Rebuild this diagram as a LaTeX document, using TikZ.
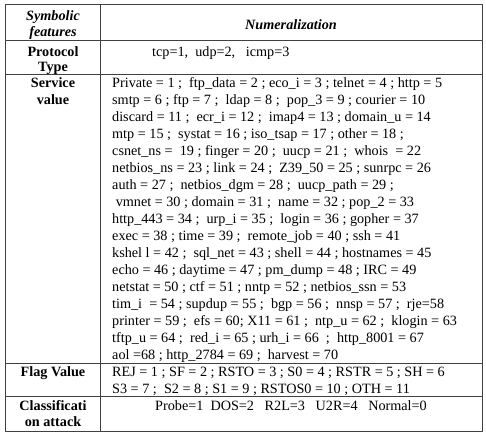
\documentclass[tikz,border=0pt]{standalone}
\usepackage{fontspec}
\setmainfont{Liberation Serif}
\usetikzlibrary{positioning}

\newcommand\servicelines{Private = 1 ;~ ftp\_data = 2 ; eco\_i = 3 ; telnet = 4 ; http = 5,
  smtp = 6 ; ftp = 7 ;~ ldap = 8 ;~ pop\_3 = 9 ; courier = 10,
  discard = 11 ;~ ecr\_i = 12 ;~ imap4 = 13 ; domain\_u = 14,
  mtp = 15 ;~ systat = 16 ; iso\_tsap = 17 ; other = 18 ;,
  csnet\_ns =~ 19 ; finger = 20 ;~ uucp = 21 ;~ whois~ = 22,
  netbios\_ns = 23 ; link = 24 ;~ Z39\_50 = 25 ; sunrpc = 26,
  auth = 27 ;~ netbios\_dgm = 28 ;~ uucp\_path = 29 ;,
  \ vmnet = 30 ; domain = 31 ;~ name = 32 ; pop\_2 = 33,
  http\_443 = 34 ;~ urp\_i = 35 ;~ login = 36 ; gopher = 37,
  exec = 38 ; time = 39 ;~ remote\_job = 40 ; ssh = 41,
  kshel l = 42 ;~ sql\_net = 43 ; shell = 44 ; hostnames = 45,
  echo = 46 ; daytime = 47 ; pm\_dump = 48 ; IRC = 49,
  netstat = 50 ; ctf = 51 ; nntp = 52 ; netbios\_ssn = 53,
  tim\_i~ = 54 ; supdup = 55 ;~ bgp = 56 ;~ nnsp = 57 ;~ rje=58,
  printer = 59 ;~ efs = 60; X11 = 61 ;~ ntp\_u = 62 ;~ klogin = 63,
  tftp\_u = 64 ;~ red\_i = 65 ; urh\_i = 66~ ;~ http\_8001 = 67,
  aol =68 ; http\_2784 = 69 ;~ harvest = 70}
\newcommand\flaglines{REJ = 1 ; SF = 2 ; RSTO = 3 ; S0 = 4 ; RSTR = 5 ; SH = 6,
  S3 = 7 ;~ S2 = 8 ; S1 = 9 ; RSTOS0 = 10 ; OTH = 11}

\newcommand\valuelines[4]{
  \foreach \entry [count=\i] in #4 {
    \node[value] (#1-\i) at (#2,#3+17*\i-17) {\entry};
  }
}

\begin{document}
\fontsize{14.2}{17}\selectfont
\begin{tikzpicture}[x=1pt,y=-1pt,
    rule/.style={black!75,line width=0.8pt},
    value/.style={anchor=base west,inner sep=0pt},
    feature/.style={anchor=base,inner sep=0pt,font=\bfseries},
    head/.style={anchor=base,inner sep=0pt,font=\bfseries\itshape}]
  %
  \useasboundingbox (0,0) rectangle (486,437);

  % frame and rules
  \draw[rule] (5,4.7) rectangle (482,431);
  \draw[rule] (100.7,4.7) -- (100.7,431);
  \foreach \y in {40.5,74,363.5,396.5} {
    \draw[rule] (5,\y) -- (482,\y);
  }

  % header
  \node[head] (sym-a) at (53,20) {Symbolic};
  \node[head] (sym-b) at (53,36.5) {features};
  \node[head] (numer) at (291,29) {Numeralization};

  % protocol
  \node[feature] (proto-a) at (53,56) {Protocol};
  \node[feature] (proto-b) at (53,71) {Type};
  \node[value] (proto-v) at (152,56) {tcp=1,~ udp=2,~~ icmp=3};

  % service
  \node[feature] (serv-a) at (53,87.5) {Service};
  \node[feature] (serv-b) at (53,104.5) {value};
  \valuelines{serv}{112}{87.5}{\servicelines}

  % flag
  \node[feature] (flag) at (53,376.5) {Flag Value};
  \valuelines{flag}{112}{376.5}{\flaglines}

  % classification
  \node[feature] (class-a) at (53,410) {Classificati};
  \node[feature] (class-b) at (53,426) {on attack};
  \node[feature,font=\mdseries] (class-v) at (291,410) {Probe=1~ DOS=2~~ R2L=3~~ U2R=4~~ Normal=0};

\end{tikzpicture}
\end{document}
